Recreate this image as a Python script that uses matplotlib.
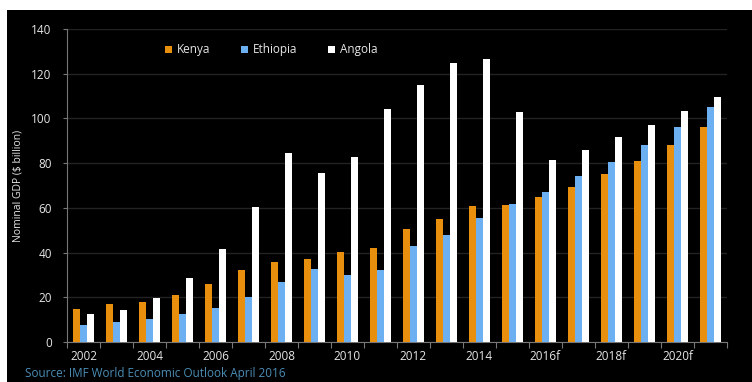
#!/usr/bin/env python3

import numpy as np
import matplotlib
matplotlib.use('Agg')
import matplotlib.pyplot as plt
from matplotlib.patches import Rectangle

years = ['2002', '2003', '2004', '2005', '2006', '2007', '2008', '2009', '2010', '2011',
	'2012', '2013', '2014', '2015', '2016f', '2017f', '2018f', '2019f', '2020f', '2021f']
kenya = [14.8, 16.9, 18.0, 21.2, 25.9, 32.2, 35.9, 37.1, 40.3, 42.2,
	50.4, 54.9, 60.9, 61.4, 64.7, 69.2, 75.2, 81.0, 88.1, 96.1]
ethiopia = [7.8, 8.9, 10.3, 12.5, 15.4, 20.0, 26.7, 32.7, 29.8, 32.2,
	43.1, 47.7, 55.6, 61.6, 67.3, 74.3, 80.7, 88.3, 96.3, 105.3]
angola = [12.5, 14.3, 19.5, 28.5, 41.8, 60.5, 84.4, 75.6, 82.6, 104.3,
	115.1, 124.7, 126.6, 102.9, 81.4, 86.0, 91.7, 97.2, 103.5, 109.6]
series = ['Kenya', 'Ethiopia', 'Angola']
colors = ['#E8900E', '#6CB0F2', '#FFFFFF']

plt.rcParams['font.family'] = ['Open Sans', 'DejaVu Sans']

fig = plt.figure(figsize=(7.52, 3.82), dpi=100)
fig.patch.set_facecolor('white')
# black panel, white strip along top and left
fig.add_artist(Rectangle((7 / 752, 0), 1, 1 - 10 / 382, transform=fig.transFigure,
	facecolor='black', edgecolor='none', zorder=-10))

ax = fig.add_axes([67 / 752, 1 - 342 / 382, 660 / 752, 313 / 382])
ax.set_facecolor('black')

x = np.arange(len(years))
w = 0.22
for i, (name, vals) in enumerate(zip(series, [kenya, ethiopia, angola])):
	ax.bar(x + (i - 1) * w, vals, width=w, color=colors[i], label=name, zorder=3)

ax.set_xlim(-0.5, len(years) - 0.5)
ax.set_ylim(0, 140)
ax.set_yticks(np.arange(0, 141, 20))
ax.yaxis.grid(True, color='#232323', linewidth=1, zorder=0)

ax.set_xticks(x[::2])
ax.set_xticklabels(years[::2])
ax.set_xticks(np.arange(-0.5, len(years), 1), minor=True)
ax.tick_params(axis='x', which='major', length=0, pad=6, labelsize=8.5, labelcolor='#e6e6e6')
ax.tick_params(axis='x', which='minor', length=4, color='#777777', width=0.8)
ax.tick_params(axis='y', length=3, color='#777777', width=0.8, labelsize=8.5,
	labelcolor='#e6e6e6', pad=8)

for side in ['top', 'right']:
	ax.spines[side].set_visible(False)
for side in ['left', 'bottom']:
	ax.spines[side].set_color('#777777')
	ax.spines[side].set_linewidth(0.8)

ax.set_ylabel('Nominal GDP ($ billion)', color='#e6e6e6', fontsize=7.5, labelpad=6)

leg = ax.legend(loc='center', bbox_to_anchor=(0.31, 0.933), ncol=3, frameon=False,
	fontsize=8.5, handlelength=0.6, handleheight=0.6, handletextpad=0.4,
	columnspacing=2.6)
for t in leg.get_texts():
	t.set_color('#e6e6e6')

fig.text(25 / 752, 1 - 374 / 382, 'Source: IMF World Economic Outlook April 2016',
	color='#4A8DB5', fontsize=8.5, va='center', ha='left')

fig.savefig('out.png', dpi=100, facecolor=fig.get_facecolor())
